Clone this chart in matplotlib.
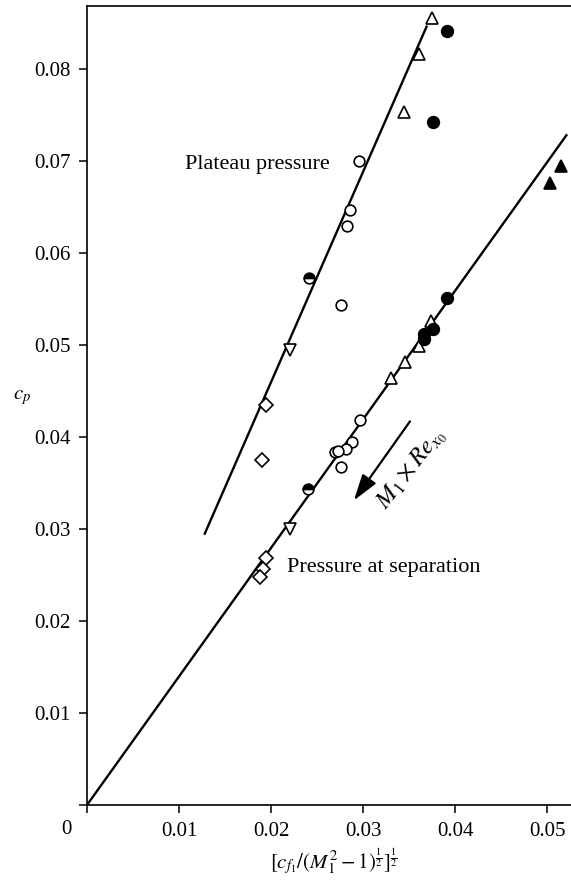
import matplotlib
matplotlib.use("Agg")
import matplotlib.pyplot as plt

plt.rcParams['font.family'] = ['Liberation Serif', 'DejaVu Serif']
plt.rcParams['mathtext.fontset'] = 'stix'

# plateau pressure points
pl_circ_x = [0.0296, 0.0286, 0.0283, 0.0276]
pl_circ_y = [0.0700, 0.0647, 0.0629, 0.0544]
pl_half_x = [0.0241]
pl_half_y = [0.0573]
pl_tri_x = [0.0375, 0.0361, 0.0345]
pl_tri_y = [0.0855, 0.0816, 0.0753]
pl_dot_x = [0.0391, 0.0376]
pl_dot_y = [0.0841, 0.0742]
pl_tdn_x = [0.0221]
pl_tdn_y = [0.0495]
pl_dia_x = [0.0195, 0.0190]
pl_dia_y = [0.0435, 0.0375]

# pressure at separation points
sp_circ_x = [0.0297, 0.0288, 0.0282, 0.0269, 0.0273, 0.0276]
sp_circ_y = [0.0418, 0.0395, 0.0387, 0.0384, 0.0385, 0.0367]
sp_half_x = [0.0240]
sp_half_y = [0.0344]
sp_tdn_x = [0.0221]
sp_tdn_y = [0.0300]
sp_dia_x = [0.0195, 0.0191, 0.0188]
sp_dia_y = [0.0268, 0.0256, 0.0248]
sp_tri_x = [0.0374, 0.0361, 0.0346, 0.0330]
sp_tri_y = [0.0526, 0.0499, 0.0482, 0.0464]
sp_dot_x = [0.0391, 0.0376, 0.0366, 0.0366]
sp_dot_y = [0.0551, 0.0517, 0.0512, 0.0506]
sp_ftri_x = [0.0515, 0.0503]
sp_ftri_y = [0.0695, 0.0676]

# fitted lines
pl_fit_x = [0.0128, 0.0369]
pl_fit_y = [0.0295, 0.0846]
sp_fit_x = [0.0, 0.0521]
sp_fit_y = [0.0, 0.0728]

xticks = [0.0, 0.01, 0.02, 0.03, 0.04, 0.05]
xlabels = ['', '0.01', '0.02', '0.03', '0.04', '0.05']
yticks = [0.0, 0.01, 0.02, 0.03, 0.04, 0.05, 0.06, 0.07, 0.08]
ylabels = ['', '0.01', '0.02', '0.03', '0.04', '0.05', '0.06', '0.07', '0.08']

fig = plt.figure(figsize=(5.71, 8.84), dpi=100)
ax = fig.add_axes([87/571, 79/884, 484/571, 799/884])

ax.plot(pl_fit_x, pl_fit_y, color='black', lw=1.7, zorder=1)
ax.plot(sp_fit_x, sp_fit_y, color='black', lw=1.7, zorder=1)

op = dict(linestyle='none', color='black', mec='black', mew=1.2, zorder=3)

for xs, ys in [(pl_circ_x, pl_circ_y), (sp_circ_x, sp_circ_y)]:
    ax.plot(xs, ys, marker='o', ms=7.7, mfc='white', **op)
for xs, ys in [(pl_half_x, pl_half_y), (sp_half_x, sp_half_y)]:
    ax.plot(xs, ys, marker='o', ms=7.7, fillstyle='top', mfc='black',
            markerfacecoloralt='white', **op)
for xs, ys in [(pl_tri_x, pl_tri_y), (sp_tri_x, sp_tri_y)]:
    ax.plot(xs, ys, marker='^', ms=9, mfc='white', **op)
for xs, ys in [(pl_tdn_x, pl_tdn_y), (sp_tdn_x, sp_tdn_y)]:
    ax.plot(xs, ys, marker='v', ms=9, mfc='white', **op)
for xs, ys in [(pl_dia_x, pl_dia_y), (sp_dia_x, sp_dia_y)]:
    ax.plot(xs, ys, marker='D', ms=7.3, mfc='white', **op)
for xs, ys in [(pl_dot_x, pl_dot_y), (sp_dot_x, sp_dot_y)]:
    ax.plot(xs, ys, marker='o', ms=8.4, mfc='black', **op)
ax.plot(sp_ftri_x, sp_ftri_y, marker='^', ms=9, mfc='black', **op)

ax.text(0.01065, 0.0696, 'Plateau pressure', fontsize=16,
        ha='left', va='center')
ax.text(0.02174, 0.0258, 'Pressure at separation', fontsize=16,
        ha='left', va='center')

ax.annotate('', xy=(0.0290, 0.0331), xytext=(0.0351, 0.0417),
            arrowprops=dict(arrowstyle='-|>,head_length=0.8,head_width=0.25',
                            mutation_scale=20, color='black', lw=1.6,
                            shrinkA=0, shrinkB=0))
ax.text(0.0353, 0.0365, r'$M_1 \times Re_{x_0}$', fontsize=18,
        rotation=52, ha='center', va='center', rotation_mode='anchor')

ax.set_xlim(0, 0.0526)
ax.set_ylim(0, 0.08685)
ax.set_xticks(xticks)
ax.set_xticklabels(xlabels)
ax.set_yticks(yticks)
ax.set_yticklabels(ylabels)
ax.tick_params(direction='out', length=6, width=1.1, labelsize=15, pad=6)
ax.spines['right'].set_visible(False)
for s in ['left', 'bottom', 'top']:
    ax.spines[s].set_linewidth(1.2)

ax.text(-0.0022, -0.0016, '0', fontsize=15, ha='center', va='top')
fig.text(22/571, 1 - 398/884, r'$c_p$', fontsize=15, ha='center', va='center')
fig.text(334/571, 1 - 862/884,
         r'$[c_{f_1}/(M_1^2-1)^{\frac{1}{2}}]^{\frac{1}{2}}$',
         fontsize=15, ha='center', va='center')

fig.savefig('out.png', dpi=100)
